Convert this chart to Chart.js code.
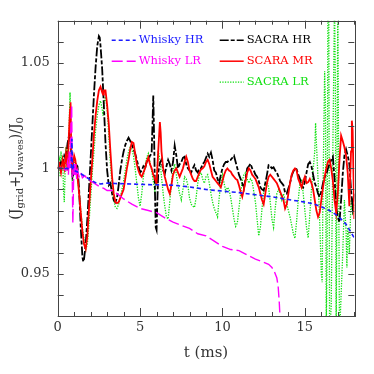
<!DOCTYPE html>
<html><head><meta charset="utf-8">
<script src="https://cdn.jsdelivr.net/npm/chart.js@4.4.1/dist/chart.umd.min.js"></script>
<style>html,body{margin:0;padding:0;background:#fff;overflow:hidden}</style>
</head><body>
<canvas id="c" width="374" height="374" style="width:374px;height:374px;display:block"></canvas>
<script>
// ---------------- data ----------------
const seriesLabels = ['Whisky HR', 'Whisky LR', 'SACRA HR', 'SCARA MR', 'SACRA LR'];
const xTickLabels = ['0', '5', '10', '15'];
const yTickLabels = ['0.95', '1', '1.05'];

const tWhiskyHR = [0,0.5,0.8,0.82,0.86,0.9,0.95,1.0,1.3,1.6,2.0,2.3,2.6,3,3.5,4,5,6,7,8,9,10,11,12,13,14,15,15.5,16,16.5,17,17.5,18];
const vWhiskyHR = [1.0,1.0,0.9998,1.0,1.014,0.999,1.001,0.999,0.998,0.9965,0.9945,0.9932,0.9926,0.993,0.9928,0.9927,0.9924,0.9922,0.992,0.9912,0.990,0.9892,0.9885,0.9875,0.9865,0.9852,0.984,0.9832,0.9818,0.980,0.9775,0.9735,0.967];

const tWhiskyLR = [0,0.3,0.5,0.6,0.65,0.7,0.75,0.8,0.85,0.88,0.92,0.96,1.0,1.05,1.1,1.15,1.2,1.3,1.4,1.5,1.65,1.8,2.0,2.3,2.6,2.8,3.0,3.3,3.6,4.0,4.5,5.0,5.5,6.0,6.5,7.0,7.5,8.0,8.5,9.0,9.5,10,10.5,11,11.5,12,12.5,12.8,13.0,13.15,13.3,13.38,13.45,13.55];
const vWhiskyLR = [1.0,1.0,0.999,1.003,0.997,1.008,1.0,1.02,1.03,0.996,0.974,0.993,1.003,0.996,1.002,0.995,0.999,0.996,0.998,0.9955,0.9965,0.995,0.994,0.9925,0.991,0.9905,0.9895,0.9895,0.988,0.9855,0.983,0.981,0.980,0.979,0.9765,0.9745,0.973,0.9715,0.969,0.968,0.9655,0.963,0.9615,0.961,0.959,0.957,0.9555,0.9545,0.953,0.951,0.948,0.944,0.936,0.92];

const tSacraHR = [0,0.1,0.2,0.3,0.4,0.5,0.6,0.7,0.75,0.8,0.9,1.0,1.1,1.2,1.3,1.4,1.5,1.55,1.6,1.7,1.8,1.9,2.0,2.1,2.2,2.3,2.4,2.5,2.55,2.6,2.7,2.8,2.9,3.0,3.1,3.2,3.3,3.4,3.5,3.6,3.7,3.8,3.9,4.0,4.1,4.2,4.3,4.4,4.5,4.6,4.7,4.8,4.9,5.0,5.1,5.2,5.3,5.4,5.5,5.6,5.7,5.75,5.8,5.85,5.9,5.95,6.0,6.05,6.1,6.2,6.3,6.4,6.5,6.6,6.7,6.8,6.9,7.0,7.1,7.2,7.3,7.4,7.5,7.6,7.7,7.8,7.9,8.0,8.1,8.2,8.3,8.4,8.5,8.6,8.7,8.8,8.9,9.0,9.1,9.2,9.3,9.4,9.5,9.6,9.7,9.8,9.9,10.0,10.1,10.2,10.3,10.4,10.5,10.6,10.7,10.8,10.9,11.0,11.1,11.2,11.3,11.4,11.5,11.6,11.7,11.8,11.9,12.0,12.1,12.2,12.3,12.4,12.5,12.6,12.7,12.8,12.9,13.0,13.1,13.2,13.3,13.4,13.5,13.6,13.7,13.8,13.9,14.0,14.1,14.2,14.3,14.4,14.5,14.6,14.7,14.8,14.9,15.0,15.1,15.2,15.3,15.4,15.5,15.6,15.7,15.8,15.9,16.0,16.1,16.2,16.3,16.4,16.5,16.6,16.7,16.8,16.9,17.0,17.1,17.2,17.3,17.4,17.5,17.6,17.7,17.8,17.9,18.0];
const vSacraHR = [1.000,1.001,1.003,1.002,1.006,1.004,1.012,1.016,1.014,1.011,0.996,0.9985,1.002,1.001,0.990,0.972,0.958,0.9558,0.957,0.964,0.976,0.990,1.005,1.020,1.035,1.048,1.058,1.0627,1.062,1.058,1.047,1.030,1.012,0.999,0.992,0.993,0.988,0.985,0.984,0.986,0.992,0.999,1.004,1.008,1.011,1.013,1.0145,1.013,1.011,1.009,1.007,1.004,1.001,0.998,0.999,1.001,1.000,1.003,1.004,1.006,1.007,1.020,1.0345,1.015,0.990,0.972,0.9708,0.985,0.998,1.0025,1.004,0.999,0.9975,1.001,1.004,1.002,0.999,1.003,1.0108,1.006,1.000,1.002,1.003,1.005,1.0055,1.002,1.000,0.999,0.998,1.000,1.0015,0.999,0.998,1.000,1.000,1.002,1.003,1.005,1.007,1.0055,1.0075,1.004,0.999,0.998,0.995,0.993,0.997,1.000,1.002,1.003,1.003,1.004,1.004,1.005,1.006,1.003,1.000,0.997,0.995,0.993,0.9905,0.995,1.000,1.001,1.0022,1.000,0.999,0.997,0.996,0.994,0.991,0.990,0.9895,0.993,0.997,1.0015,1.001,1.000,1.0005,0.999,0.998,0.996,0.994,0.993,0.992,0.9885,0.988,0.9905,0.993,0.9965,0.9985,1.000,0.9995,0.997,0.995,0.992,0.991,0.9935,0.998,1.002,1.003,1.001,0.997,0.993,0.991,0.988,0.9865,0.989,0.993,0.996,0.997,1.000,1.002,1.004,1.0055,0.995,0.9815,0.977,0.9745,0.985,0.9975,1.006,1.009,1.006,1.002,0.990,0.9815,0.988];

const tScaraMR = [0,0.1,0.2,0.3,0.4,0.5,0.6,0.65,0.7,0.75,0.78,0.82,0.87,0.95,1.0,1.07,1.15,1.2,1.3,1.4,1.5,1.6,1.7,1.8,1.9,2.0,2.1,2.2,2.3,2.4,2.5,2.6,2.7,2.75,2.8,2.9,3.0,3.1,3.2,3.3,3.4,3.5,3.6,3.7,3.8,3.9,4.0,4.1,4.2,4.3,4.4,4.5,4.6,4.7,4.8,4.9,5.0,5.1,5.2,5.3,5.4,5.5,5.6,5.7,5.8,5.9,6.0,6.1,6.2,6.25,6.3,6.4,6.5,6.6,6.7,6.8,6.9,7.0,7.1,7.2,7.3,7.4,7.5,7.6,7.7,7.8,7.9,8.0,8.1,8.2,8.3,8.4,8.5,8.6,8.7,8.8,8.9,9.0,9.1,9.2,9.3,9.4,9.5,9.6,9.7,9.8,9.9,10.0,10.1,10.2,10.3,10.4,10.5,10.6,10.7,10.8,10.9,11.0,11.1,11.2,11.3,11.4,11.5,11.6,11.7,11.8,11.9,12.0,12.1,12.2,12.3,12.4,12.5,12.6,12.7,12.8,12.9,13.0,13.1,13.2,13.3,13.4,13.5,13.6,13.7,13.8,13.9,14.0,14.1,14.2,14.3,14.4,14.5,14.6,14.7,14.8,14.9,15.0,15.1,15.2,15.3,15.4,15.5,15.6,15.7,15.8,15.9,16.0,16.1,16.2,16.3,16.4,16.5,16.6,16.7,16.8,16.9,17.0,17.1,17.2,17.3,17.4,17.5,17.6,17.7,17.8,17.85,17.9,18.0];
const vScaraMR = [1.000,1.002,0.998,1.004,1.000,1.007,0.999,1.010,1.020,1.028,1.0313,1.010,0.998,1.003,1.006,1.004,0.999,0.996,0.988,0.979,0.970,0.964,0.9618,0.968,0.981,0.993,1.004,1.016,1.025,1.032,1.037,1.0387,1.036,1.035,1.037,1.037,1.030,1.021,1.008,0.996,0.988,0.984,0.9835,0.984,0.986,0.988,0.990,0.995,1.000,1.004,1.009,1.0125,1.012,1.007,1.002,0.999,0.997,0.996,0.998,1.000,1.003,1.0053,1.002,1.000,0.997,0.995,0.993,1.008,1.022,1.017,1.008,1.000,0.996,0.993,0.990,0.988,0.992,0.997,0.999,1.000,0.998,0.996,0.998,1.000,1.003,1.0055,1.003,0.999,0.997,0.995,0.994,0.994,0.996,0.998,0.9995,1.000,1.001,1.003,1.004,1.002,0.999,0.996,0.995,0.994,0.993,0.992,0.991,0.994,0.997,0.999,1.000,0.999,0.9985,0.997,0.996,0.995,0.9945,0.992,0.989,0.9865,0.990,0.994,0.998,1.000,0.999,0.997,0.996,0.995,0.993,0.991,0.988,0.985,0.983,0.988,0.993,0.996,0.997,0.996,0.995,0.994,0.993,0.991,0.989,0.987,0.985,0.981,0.983,0.988,0.993,0.997,0.999,1.000,0.999,0.995,0.993,0.991,0.994,0.996,0.993,0.9935,0.995,0.993,0.990,0.985,0.980,0.977,0.979,0.985,0.991,0.996,1.000,1.003,1.004,1.000,0.994,0.985,0.979,0.988,1.004,1.0155,1.013,1.010,1.006,0.998,0.982,1.008,1.0226,1.018,0.976];

const tSacraLR = [0,0.1,0.15,0.2,0.25,0.3,0.35,0.4,0.45,0.5,0.55,0.6,0.65,0.7,0.75,0.8,0.85,0.9,0.95,1.0,1.1,1.2,1.3,1.4,1.5,1.6,1.7,1.8,1.9,2.0,2.1,2.2,2.3,2.4,2.5,2.6,2.7,2.75,2.8,2.9,3.0,3.1,3.2,3.3,3.4,3.5,3.6,3.7,3.8,3.9,4.0,4.1,4.2,4.3,4.4,4.5,4.6,4.7,4.8,4.9,5.0,5.1,5.2,5.3,5.4,5.5,5.6,5.7,5.8,5.9,6.0,6.1,6.2,6.3,6.4,6.5,6.6,6.7,6.8,6.9,7.0,7.1,7.2,7.3,7.4,7.5,7.6,7.7,7.8,7.9,8.0,8.1,8.2,8.3,8.4,8.5,8.6,8.7,8.8,8.9,9.0,9.1,9.2,9.3,9.4,9.5,9.6,9.7,9.8,9.9,10.0,10.1,10.2,10.3,10.4,10.5,10.6,10.7,10.8,10.9,11.0,11.1,11.2,11.3,11.4,11.5,11.6,11.7,11.8,11.9,12.0,12.1,12.2,12.3,12.4,12.5,12.6,12.7,12.8,12.9,13.0,13.1,13.2,13.3,13.4,13.5,13.6,13.7,13.8,13.9,14.0,14.1,14.2,14.3,14.4,14.5,14.6,14.7,14.8,14.9,15.0,15.1,15.2,15.3,15.4,15.5,15.6,15.65,15.7,15.8,15.9,16.0,16.05,16.1,16.2,16.25,16.3,16.35,16.4,16.45,16.5,16.6,16.7,16.8,16.85,16.9,17.0,17.1,17.2,17.3,17.4,17.5,17.55,17.6,17.7,17.8,17.9,18.0];
const vSacraLR = [1.000,1.004,0.996,1.008,0.999,1.006,0.990,0.984,0.9985,1.010,1.002,1.012,1.005,1.022,1.036,1.018,1.000,0.994,1.002,1.004,1.001,0.996,0.989,0.980,0.972,0.966,0.9615,0.964,0.974,0.986,0.998,1.008,1.018,1.025,1.030,1.032,1.028,1.025,1.031,1.034,1.028,1.016,1.002,0.992,0.985,0.9815,0.981,0.983,0.986,0.990,0.994,0.999,1.004,1.008,1.010,1.009,1.006,1.000,0.993,0.986,0.982,0.988,0.996,1.001,1.005,1.007,1.003,0.999,0.994,0.989,0.995,1.0085,1.004,0.996,0.988,0.982,0.977,0.976,0.984,0.993,0.999,1.002,0.997,0.992,0.988,0.985,0.990,0.996,0.995,0.992,0.986,0.983,0.982,0.9815,0.986,0.993,0.997,0.998,0.995,0.993,0.996,0.997,0.993,0.988,0.984,0.981,0.979,0.977,0.986,0.993,0.997,0.993,0.989,0.991,0.990,0.986,0.981,0.976,0.9725,0.974,0.981,0.988,0.994,0.997,0.998,0.995,0.993,0.995,0.994,0.989,0.984,0.976,0.968,0.972,0.981,0.989,0.993,0.994,0.991,0.984,0.976,0.972,0.981,0.988,0.990,0.988,0.985,0.988,0.985,0.983,0.980,0.977,0.973,0.969,0.9668,0.975,0.985,0.993,0.995,0.988,0.980,0.972,0.967,0.978,0.990,0.999,1.008,1.0215,1.012,0.995,0.975,0.950,0.946,0.990,1.046,1.030,0.925,0.960,1.080,1.080,0.920,0.935,1.010,1.080,1.040,0.920,1.080,0.920,0.940,0.960,0.985,0.970,0.953,0.972,0.960,0.985,0.978,0.983];

const seriesColors = ['#1a1aff', '#ff00ff', '#000000', '#ff0000', '#10e010'];

// ---------------- chart ----------------
function pts(t, v) { return t.map((x, i) => ({ x: x, y: v[i] })); }
const FONT = 'DejaVu Serif';

const datasets = [
  { label: seriesLabels[0], data: pts(tWhiskyHR, vWhiskyHR), borderColor: seriesColors[0], borderWidth: 1.6, borderDash: [4, 3], order: 0 },
  { label: seriesLabels[1], data: pts(tWhiskyLR, vWhiskyLR), borderColor: seriesColors[1], borderWidth: 1.4, borderDash: [11, 4], order: 1 },
  { label: seriesLabels[2], data: pts(tSacraHR, vSacraHR), borderColor: seriesColors[2], borderWidth: 1.8, borderDash: [9, 2, 4, 2], order: 3 },
  { label: seriesLabels[3], data: pts(tScaraMR, vScaraMR), borderColor: seriesColors[3], borderWidth: 1.8, borderDash: [], order: 2 },
  { label: seriesLabels[4], data: pts(tSacraLR, vSacraLR), borderColor: seriesColors[4], borderWidth: 1.3, borderDash: [1.3, 1.3], order: 4 }
].map(d => Object.assign(d, { pointRadius: 0, tension: 0, fill: false, clip: 0 }));

const framePlugin = {
  id: 'frame',
  afterDatasetsDraw(chart) {
    const { ctx, chartArea: a, scales } = chart;
    ctx.save();
    ctx.strokeStyle = '#444';
    ctx.lineWidth = 1;
    // inward tick marks, positioned by the library's scales
    ctx.beginPath();
    scales.x.ticks.forEach(tk => {
      const px = Math.round(scales.x.getPixelForValue(tk.value)) + 0.5;
      const len = (tk.value % 5 === 0) ? 8 : 4;
      ctx.moveTo(px, a.bottom); ctx.lineTo(px, a.bottom - len);
      ctx.moveTo(px, a.top); ctx.lineTo(px, a.top + len);
    });
    scales.y.ticks.forEach(tk => {
      const py = Math.round(scales.y.getPixelForValue(tk.value)) + 0.5;
      const len = 6;
      ctx.moveTo(a.left, py); ctx.lineTo(a.left + len, py);
      ctx.moveTo(a.right, py); ctx.lineTo(a.right - len, py);
    });
    ctx.stroke();
    ctx.strokeRect(Math.round(a.left) + 0.5, Math.round(a.top) + 0.5, Math.round(a.right - a.left), Math.round(a.bottom - a.top));
    ctx.restore();
  },
  afterDraw(chart) {
    const { ctx, chartArea: a } = chart;
    // y-axis title with subscripts
    ctx.save();
    const parts = [['(J', 0], ['grid', 1], ['+J', 0], ['waves', 1], [')/J', 0], ['0', 1]];
    const big = '14px "' + FONT + '"', small = '10px "' + FONT + '"';
    let w = 0;
    parts.forEach(p => { ctx.font = p[1] ? small : big; w += ctx.measureText(p[0]).width; });
    ctx.translate(15, (a.top + a.bottom) / 2);
    ctx.rotate(-Math.PI / 2);
    ctx.fillStyle = '#333';
    ctx.textBaseline = 'alphabetic';
    let x = -w / 2;
    parts.forEach(p => {
      ctx.font = p[1] ? small : big;
      ctx.fillText(p[0], x, p[1] ? 8 : 5);
      x += ctx.measureText(p[0]).width;
    });
    ctx.restore();

    // legend in two columns inside the plot
    ctx.save();
    const ent = [
      { i: 0, col: 0, row: 0 }, { i: 1, col: 0, row: 1 },
      { i: 2, col: 1, row: 0 }, { i: 3, col: 1, row: 1 }, { i: 4, col: 1, row: 2 }
    ];
    const colX = [a.left + 54, a.left + 162];
    ctx.font = '11.5px "' + FONT + '"';
    ctx.textBaseline = 'middle';
    ent.forEach(e => {
      const ds = chart.data.datasets[e.i];
      const x0 = colX[e.col], y0 = a.top + 19.5 + e.row * 21;
      ctx.strokeStyle = ds.borderColor;
      ctx.lineWidth = Math.min(ds.borderWidth, 1.5);
      ctx.setLineDash(ds.borderDash || []);
      ctx.beginPath(); ctx.moveTo(x0, y0); ctx.lineTo(x0 + 24, y0); ctx.stroke();
      ctx.setLineDash([]);
      ctx.fillStyle = ds.borderColor;
      ctx.fillText(ds.label, x0 + 27, y0);
    });
    ctx.restore();
  }
};

new Chart(document.getElementById('c'), {
  type: 'line',
  data: { datasets: datasets },
  options: {
    responsive: false,
    animation: false,
    devicePixelRatio: 1,
    layout: { padding: { left: 0, right: 19.7, top: 20.7, bottom: 0 } },
    plugins: { legend: { display: false }, tooltip: { enabled: false } },
    scales: {
      x: {
        type: 'linear', min: 0, max: 18,
        afterFit(s) { s.height = 58; },
        ticks: {
          stepSize: 1, autoSkip: false, maxRotation: 0, padding: 4,
          color: '#333', font: { family: FONT, size: 13 },
          callback: v => xTickLabels.includes(String(v)) ? String(v) : ''
        },
        grid: { display: false, drawTicks: false },
        border: { display: false },
        title: { display: true, text: 't (ms)', color: '#333', font: { family: FONT, size: 15 }, padding: { top: 4, bottom: 12 } }
      },
      y: {
        type: 'linear', min: 0.93, max: 1.07,
        afterFit(s) { s.width = 57.7; },
        ticks: {
          stepSize: 0.01, autoSkip: false, padding: 8,
          color: '#333', font: { family: FONT, size: 13 },
          callback: v => { const s = String(Math.round(v * 100) / 100); return yTickLabels.includes(s) ? s : ''; }
        },
        grid: { display: false, drawTicks: false },
        border: { display: false }
      }
    }
  },
  plugins: [framePlugin]
});
</script>
</body></html>
